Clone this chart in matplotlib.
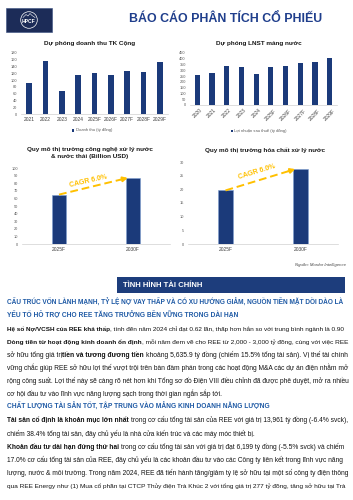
import matplotlib
matplotlib.use("Agg")
import matplotlib.pyplot as plt
from matplotlib.patches import Rectangle, Circle
import numpy as np

plt.rcParams['font.family'] = ['Liberation Sans', 'DejaVu Sans']

# ---------------- data ----------------
rev_years = ["2021", "2022", "2023", "2024", "2025F", "2026F", "2027F", "2028F", "2029F"]
rev_values = [92, 155, 68, 115, 121, 116, 126, 125, 153]

np_years = ["2020", "2021", "2022", "2023", "2024", "2025F", "2026F", "2027F", "2028F", "2029F"]
np_values = [262, 278, 340, 325, 270, 325, 335, 362, 370, 405]

tech_years = ["2025F", "2030F"]
tech_values = [65, 87]

chem_years = ["2025F", "2030F"]
chem_values = [19.6, 27.4]

cagr_label = "CAGR 6.0%"

W, H = 353, 500
fig = plt.figure(figsize=(W / 100, H / 100), dpi=100)
fig.patch.set_facecolor("white")

ov = fig.add_axes([0, 0, 1, 1])
ov.set_xlim(0, W)
ov.set_ylim(H, 0)
ov.axis("off")

NAVY = "#1b3a7a"
GOLD = "#FFC000"
TITLE_BLUE = "#1f3e8c"
HEAD_BLUE = "#1f5aa5"
TXT = "#141414"


def px_axes(l, t, r, b):
    return fig.add_axes([l / W, 1 - b / H, (r - l) / W, (b - t) / H])


def style(ax, ymax, ystep, xlabsize=3.5):
    ax.set_facecolor("none")
    for s in ["top", "right", "left"]:
        ax.spines[s].set_visible(False)
    ax.spines["bottom"].set_color("#d0d0d0")
    ax.spines["bottom"].set_linewidth(0.5)
    ax.set_ylim(0, ymax)
    ax.set_yticks(np.arange(0, ymax + ystep / 2, ystep))
    ax.tick_params(axis="y", length=0, labelsize=2.8, labelcolor="#595959", pad=3)
    ax.tick_params(axis="x", length=0, labelsize=xlabsize, labelcolor="#404040", pad=2)


# ---------------- header ----------------
ov.add_patch(Rectangle((6, 8), 46, 24, facecolor="#1c2c58", edgecolor="#3a4f80", lw=0.4))
ov.add_patch(Circle((29, 20), 8.3, facecolor="none", edgecolor="white", lw=0.5))
ov.plot([23, 26, 28, 30, 32, 35], [17.5, 14.5, 16, 13.5, 15.5, 17.5], color="white", lw=0.4)
ov.text(29, 21.5, "HPCF", color="white", fontsize=3.6, fontweight="bold", ha="center", va="center")
ov.text(226, 18.5, "BÁO CÁO PHÂN TÍCH CỔ PHIẾU", color=TITLE_BLUE, fontsize=8.9,
        fontweight="bold", ha="center", va="center")

# ---------------- chart 1 ----------------
ov.text(90, 43.5, "Dự phóng doanh thu TK Cộng", fontsize=4.6, fontweight="bold",
        ha="center", va="center", color="#1a1a1a")
ax1 = px_axes(21, 53, 168, 114)
x1 = np.arange(len(rev_years))
ax1.bar(x1, rev_values, width=0.33, color=NAVY)
ax1.set_xlim(-0.5, len(rev_years) - 0.5)
style(ax1, 180, 20)
ax1.set_xticks(x1)
ax1.set_xticklabels(rev_years)
ov.add_patch(Rectangle((72, 129.3), 2.2, 2.2, facecolor=NAVY))
ov.text(75.5, 130.5, "Doanh thu (tỷ đồng)", fontsize=3.0, color="#595959", ha="left", va="center")

# ---------------- chart 2 ----------------
ov.text(259, 43.5, "Dự phóng LNST mảng nước", fontsize=4.6, fontweight="bold",
        ha="center", va="center", color="#1a1a1a")
ax2 = px_axes(190, 53, 337, 105)
x2 = np.arange(len(np_years))
ax2.bar(x2, np_values, width=0.35, color=NAVY)
ax2.set_xlim(-0.5, len(np_years) - 0.5)
style(ax2, 450, 50)
ax2.set_xticks(x2)
ax2.set_xticklabels(np_years, rotation=45, ha="center")
ov.add_patch(Rectangle((231, 129.8), 2.2, 2.2, facecolor=NAVY))
ov.text(234.5, 131, "Lợi nhuận sau thuế (tỷ đồng)", fontsize=3.0, color="#595959", ha="left", va="center")


# ---------------- chart 3 & 4 ----------------
def cagr(ax, vals, tx, ty, rot):
    end = (0.93, vals[1] * 1.0)
    start = (0.0, vals[0])
    frac = 0.9
    mx = start[0] + (end[0] - start[0]) * frac
    my = start[1] + (end[1] - start[1]) * frac
    ax.plot([start[0], mx], [start[1], my], color=GOLD, lw=1.4, ls=(0, (4, 2)),
            solid_capstyle="butt", dash_capstyle="butt", clip_on=False, zorder=5)
    ax.annotate("", xy=end, xytext=(mx, my),
                arrowprops=dict(arrowstyle="-|>", color=GOLD, lw=1.4, mutation_scale=7,
                                shrinkA=0, shrinkB=0), zorder=6)
    ax.text(tx, ty, cagr_label, color=GOLD, fontsize=5.0, fontweight="bold",
            rotation=rot, ha="center", va="center", zorder=6)


ov.text(90, 149.5, "Quy mô thị trường công nghệ xử lý nước", fontsize=4.6, fontweight="bold",
        ha="center", va="center", color="#1a1a1a")
ov.text(90, 156.5, "& nước thải (Billion USD)", fontsize=4.6, fontweight="bold",
        ha="center", va="center", color="#1a1a1a")
ax3 = px_axes(22, 168, 170, 244)
x3 = np.arange(len(tech_years))
ax3.bar(x3, tech_values, width=0.2, color=NAVY, edgecolor="#7f9fd0", linewidth=0.4)
ax3.set_xlim(-0.5, 1.5)
style(ax3, 100, 10)
ax3.set_xticks(x3)
ax3.set_xticklabels(tech_years)
cagr(ax3, tech_values, 0.39, 82, 13)

ov.text(265, 150.5, "Quy mô thị trường hóa chất xử lý nước", fontsize=4.6, fontweight="bold",
        ha="center", va="center", color="#1a1a1a")
ax4 = px_axes(188, 162, 338, 244)
x4 = np.arange(len(chem_years))
ax4.bar(x4, chem_values, width=0.19, color=NAVY, edgecolor="#7f9fd0", linewidth=0.4)
ax4.set_xlim(-0.5, 1.5)
style(ax4, 30, 5)
ax4.set_xticks(x4)
ax4.set_xticklabels(chem_years)
cagr(ax4, chem_values, 0.42, 26.3, 17)

ov.text(346, 265, "Nguồn: Mordor Intelligence", fontsize=3.1, style="italic",
        color="#404040", ha="right", va="center")

# ---------------- banner ----------------
ov.add_patch(Rectangle((117, 277), 228, 16, facecolor="#1d3d7c", edgecolor="none"))
ov.text(123, 285.3, "TÌNH HÌNH TÀI CHÍNH", color="white", fontsize=5.6,
        fontweight="bold", ha="left", va="center")

# ---------------- body text ----------------
H_ = "H"  # heading
N_ = "N"  # normal
B_ = "B"  # bold

lines = [
    ([("CẤU TRÚC VỐN LÀNH MẠNH, TỶ LỆ NỢ VAY THẤP VÀ CÓ XU HƯỚNG GIẢM, NGUỒN TIỀN MẶT DỒI DÀO LÀ", H_)], True),
    ([("YẾU TỐ HỖ TRỢ CHO REE TĂNG TRƯỞNG BỀN VỮNG TRONG DÀI HẠN", H_)], False),
    ([("Hệ số Nợ/VCSH của REE khá thấp", B_),
      (", tính đến năm 2024 chỉ đạt 0.62 lần, thấp hơn hẳn so với trung bình ngành là 0.90", N_)], True),
    ([("Dòng tiền từ hoạt động kinh doanh ổn định", B_),
      (", mỗi năm đem về cho REE từ 2,000 - 3,000 tỷ đồng, cùng với việc REE", N_)], True),
    ([("sở hữu tổng giá trị ", N_), ("tiền và tương đương tiền", B_),
      (" khoảng 5,635.9 tỷ đồng (chiếm 15.5% tổng tài sản). Vị thế tài chính", N_)], True),
    ([("vững chắc giúp REE sở hữu lợi thế vượt trội trên bàn đàm phán trong các hoạt động M&A các dự án điện nhằm mở", N_)], True),
    ([("rộng công suất. Lợi thế này sẽ càng rõ nét hơn khi Tổng sơ đồ Điện VIII điều chỉnh đã được phê duyệt, mở ra nhiều", N_)], True),
    ([("cơ hội đầu tư vào lĩnh vực năng lượng sạch trong thời gian ngắn sắp tới.", N_)], False),
    ([("CHẤT LƯỢNG TÀI SẢN TỐT, TẬP TRUNG VÀO MẢNG KINH DOANH NĂNG LƯỢNG", H_)], False),
    ([("Tài sản cố định là khoản mục lớn nhất", B_),
      (" trong cơ cấu tổng tài sản của REE với giá trị 13,961 tỷ đồng (-6.4% svck),", N_)], True),
    ([("chiếm 38.4% tổng tài sản, đây chủ yếu là nhà cửa kiến trúc và các máy móc thiết bị.", N_)], False),
    ([("Khoản đầu tư dài hạn đứng thứ hai", B_),
      (" trong cơ cấu tổng tài sản với giá trị đạt 6,199 tỷ đồng (-5.5% svck) và chiếm", N_)], True),
    ([("17.0% cơ cấu tổng tài sản của REE, đây chủ yếu là các khoản đầu tư vào các Công ty liên kết trong lĩnh vực năng", N_)], True),
    ([("lượng, nước & môi trường. Trong năm 2024, REE đã tiến hành tăng/giảm tỷ lệ sở hữu tại một số công ty điện thông", N_)], True),
    ([("qua REE Energy như (1) Mua cổ phần tại CTCP Thủy điện Trà Khúc 2 với tổng giá trị 277 tỷ đồng, tăng sở hữu tại Trà", N_)], True),
]

X0, X1 = 7, 346
Y0, DY = 302.5, 13.1
renderer = fig.canvas.get_renderer()


def weight(kind):
    return "bold" if kind in (H_, B_) else "normal"


def measure(txt, kind, fs):
    t = ov.text(0, 0, txt, fontsize=fs, fontweight=weight(kind))
    w = t.get_window_extent(renderer).width
    t.remove()
    return w


def runs_of(segs):
    out = []
    for txt, kind in segs:
        sp = txt.startswith(" ")
        out.append((txt.strip(), kind, sp))
    return out


def space_w(kind, fs):
    return measure("a a", kind, fs) - measure("aa", kind, fs)


def natural_width(segs, fs):
    tot = 0
    for i, (t, k, sp) in enumerate(runs_of(segs)):
        if i > 0 and sp:
            tot += space_w(k, fs)
        tot += measure(t, k, fs)
    return tot


REF = 10.0
fit = {i: REF * (X1 - X0) / natural_width(segs, REF)
       for i, (segs, just) in enumerate(lines) if just}
BASE = float(np.median(list(fit.values())))


def draw_line(segs, y, fs):
    x = X0
    for i, (t, k, sp) in enumerate(runs_of(segs)):
        if i > 0 and sp:
            x += space_w(k, fs)
        ov.text(x, y, t, fontsize=fs, fontweight=weight(k),
                color=HEAD_BLUE if k == H_ else TXT, ha="left", va="baseline")
        x += measure(t, k, fs)


for i, (segs, just) in enumerate(lines):
    fs = BASE
    if just:
        fs = min(fit[i], BASE * 1.02)
    draw_line(segs, Y0 + i * DY + 2, fs)

fig.savefig("out.png", dpi=100)
